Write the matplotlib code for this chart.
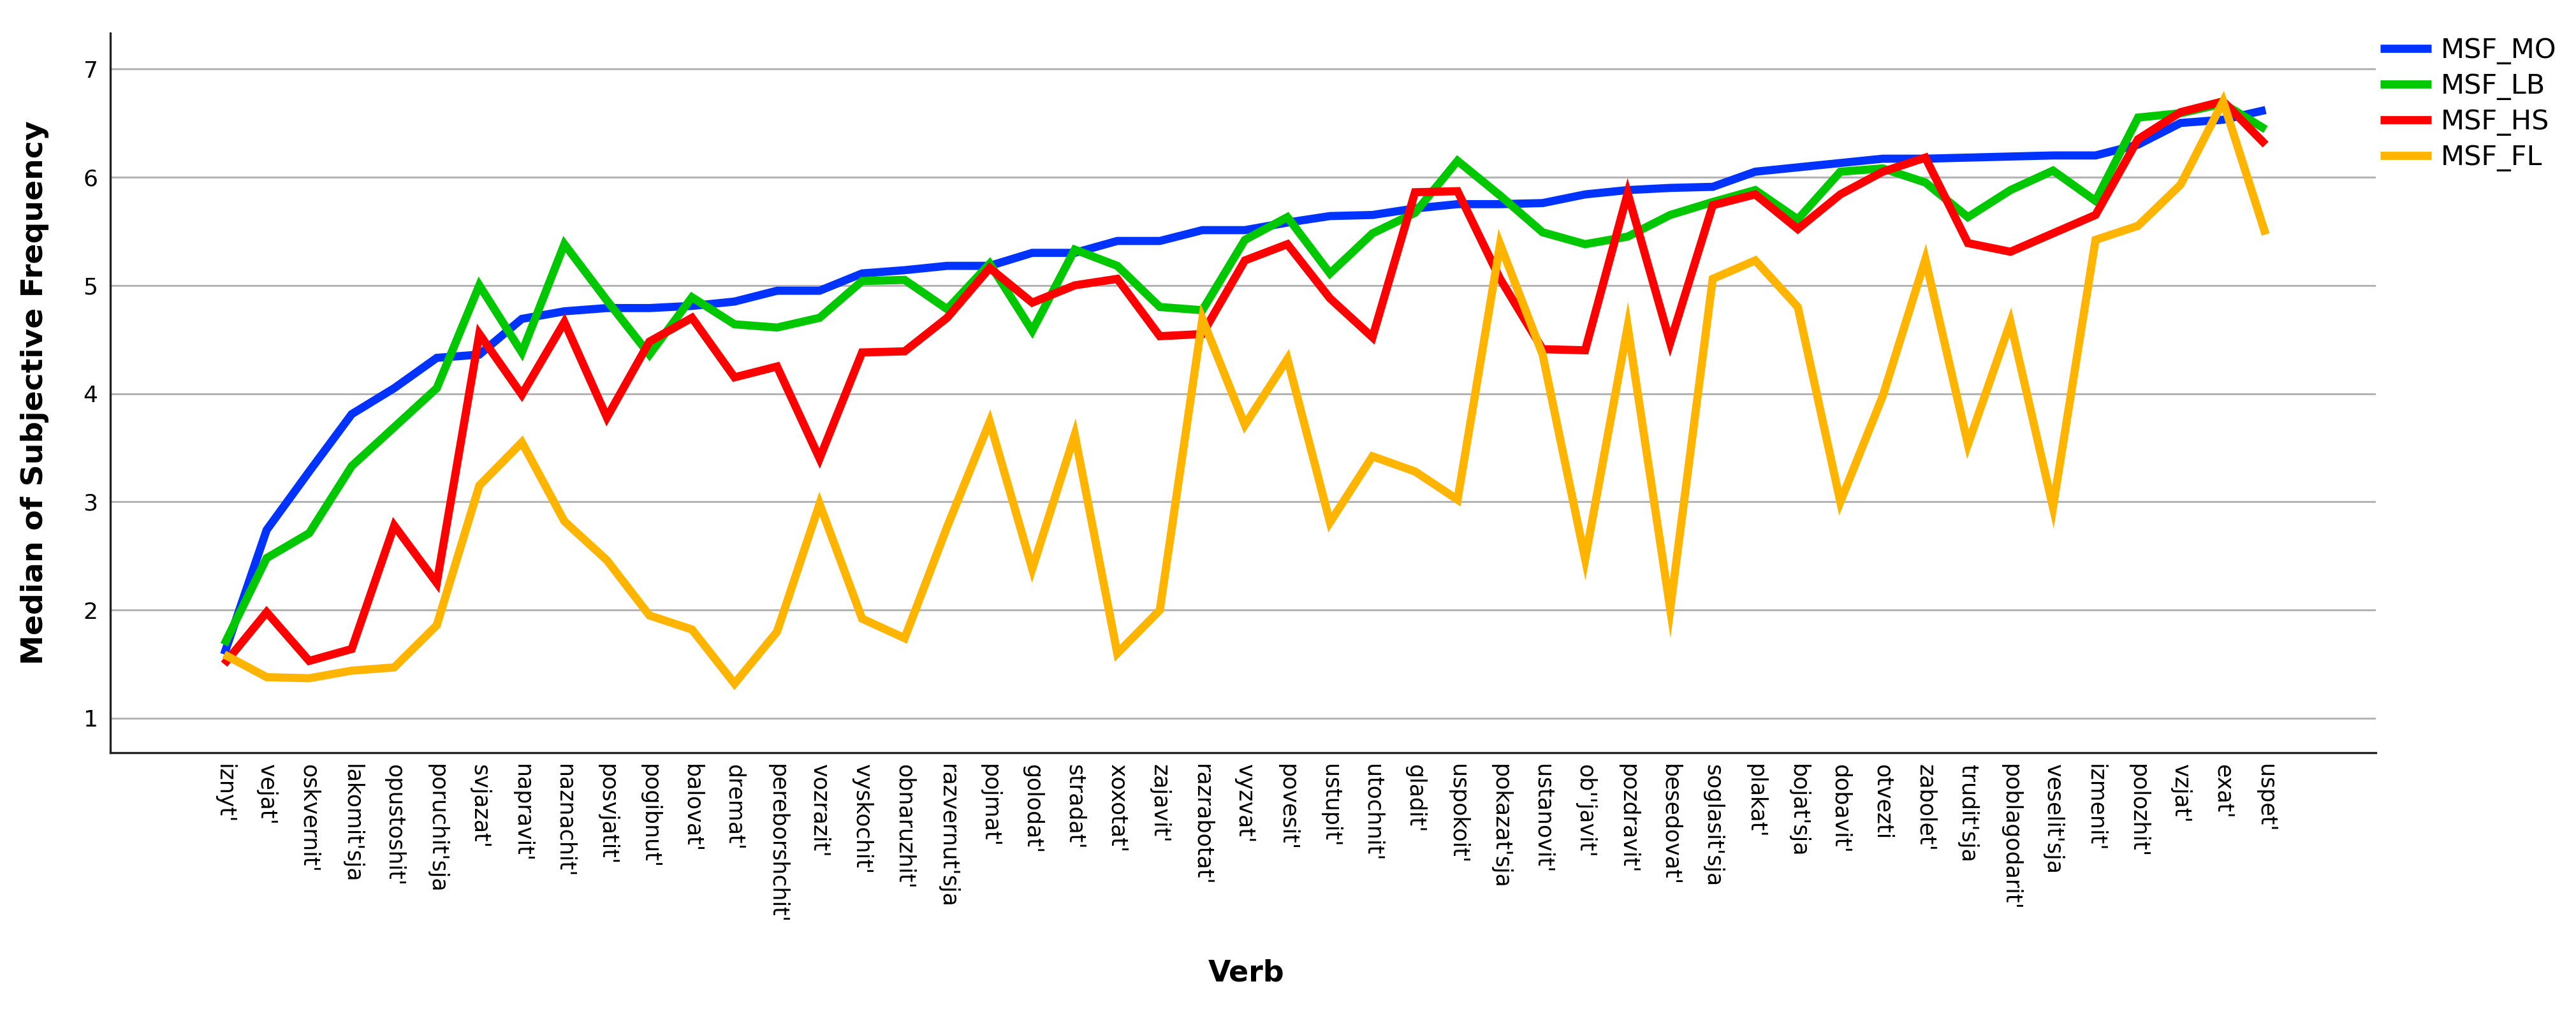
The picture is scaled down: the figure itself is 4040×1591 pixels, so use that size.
import matplotlib
matplotlib.use("Agg")
import matplotlib.pyplot as plt

verbs = ["iznyt'", "vejat'", "oskvernit'", "lakomit'sja", "opustoshit'", "poruchit'sja",
         "svjazat'", "napravit'", "naznachit'", "posvjatit'", "pogibnut'", "balovat'",
         "dremat'", "pereborshchit'", "vozrazit'", "vyskochit'", "obnaruzhit'", "razvernut'sja",
         "pojmat'", "golodat'", "stradat'", "xoxotat'", "zajavit'", "razrabotat'",
         "vyzvat'", "povesit'", "ustupit'", "utochnit'", "gladit'", "uspokoit'",
         "pokazat'sja", "ustanovit'", "ob''javit'", "pozdravit'", "besedovat'", "soglasit'sja",
         "plakat'", "bojat'sja", "dobavit'", "otvezti", "zabolet'", "trudit'sja",
         "poblagodarit'", "veselit'sja", "izmenit'", "polozhit'", "vzjat'", "exat'", "uspet'"]

msf_mo = [1.59, 2.74, 3.28, 3.81, 4.05, 4.33, 4.36, 4.69, 4.76, 4.79, 4.79, 4.81, 4.85,
          4.95, 4.95, 5.11, 5.14, 5.18, 5.18, 5.30, 5.30, 5.41, 5.41, 5.51, 5.51, 5.58,
          5.64, 5.65, 5.71, 5.75, 5.75, 5.76, 5.84, 5.88, 5.90, 5.91, 6.05, 6.09, 6.13,
          6.17, 6.17, 6.18, 6.19, 6.20, 6.20, 6.30, 6.50, 6.53, 6.62]

msf_lb = [1.68, 2.48, 2.71, 3.33, 3.69, 4.05, 5.00, 4.38, 5.38, 4.86, 4.36, 4.89, 4.64,
          4.61, 4.70, 5.04, 5.05, 4.78, 5.20, 4.58, 5.33, 5.18, 4.80, 4.77, 5.42, 5.63,
          5.11, 5.48, 5.67, 6.15, 5.83, 5.49, 5.38, 5.45, 5.65, 5.77, 5.88, 5.61, 6.05,
          6.08, 5.95, 5.63, 5.88, 6.06, 5.78, 6.55, 6.59, 6.68, 6.44]

msf_hs = [1.50, 1.98, 1.53, 1.64, 2.78, 2.25, 4.55, 3.99, 4.66, 3.78, 4.48, 4.70, 4.15,
          4.25, 3.40, 4.38, 4.39, 4.70, 5.16, 4.84, 5.00, 5.06, 4.53, 4.55, 5.23, 5.38,
          4.88, 4.52, 5.86, 5.87, 5.06, 4.41, 4.40, 5.85, 4.47, 5.74, 5.84, 5.52, 5.84,
          6.05, 6.18, 5.39, 5.31, 5.48, 5.65, 6.35, 6.60, 6.70, 6.30]

msf_fl = [1.59, 1.38, 1.37, 1.44, 1.47, 1.86, 3.15, 3.55, 2.82, 2.46, 1.95, 1.82, 1.32,
          1.80, 2.98, 1.92, 1.74, 2.77, 3.74, 2.38, 3.62, 1.60, 2.00, 4.69, 3.71, 4.32,
          2.81, 3.42, 3.28, 3.02, 5.38, 4.36, 2.47, 4.62, 2.01, 5.06, 5.23, 4.80, 3.00,
          3.98, 5.24, 3.53, 4.66, 2.95, 5.42, 5.55, 5.93, 6.70, 5.47]

series_names = ["MSF_MO", "MSF_LB", "MSF_HS", "MSF_FL"]
series_colors = ["#0033ff", "#00c800", "#ff0000", "#ffb400"]
y_ticks = [1, 2, 3, 4, 5, 6, 7]

W, H = 4040, 1591
fig = plt.figure(figsize=(W / 100, H / 100), dpi=100)
ax_l, ax_r, ax_t, ax_b = 173, 3726, 52, 1181
ax = fig.add_axes([ax_l / W, 1 - ax_b / H, (ax_r - ax_l) / W, (ax_b - ax_t) / H])

x = list(range(len(verbs)))
for vals, name, col in zip([msf_mo, msf_lb, msf_hs, msf_fl], series_names, series_colors):
    ax.plot(x, vals, color=col, lw=9.2, label=name, solid_joinstyle="miter",
            solid_capstyle="butt", zorder=3)

ax.set_xlim(-2.676, 50.59)
ax.set_ylim(0.682, 7.33)
ax.set_yticks(y_ticks)
ax.set_xticks(x)
ax.set_xticklabels(verbs, rotation=-90, fontsize=25)
ax.tick_params(axis="y", labelsize=26, length=0, pad=14)
ax.tick_params(axis="x", length=0, pad=13)
ax.yaxis.grid(True, color="#b4b4b4", lw=2.2, zorder=0)
ax.set_axisbelow(True)

for s in ["top", "right"]:
    ax.spines[s].set_visible(False)
for s in ["left", "bottom"]:
    ax.spines[s].set_linewidth(2.4)
    ax.spines[s].set_color("#222222")

ax.set_ylabel("Median of Subjective Frequency", fontsize=34, fontweight="bold", va="center")
ax.yaxis.set_label_coords((55 - ax_l) / (ax_r - ax_l), 0.5)
ax.set_xlabel("Verb", fontsize=33, fontweight="bold", va="center")
ax.xaxis.set_label_coords((1955 - ax_l) / (ax_r - ax_l), (ax_b - 1527) / (ax_b - ax_t))

ax.legend(loc="upper left", bbox_to_anchor=(3733 / W, 1 - 58 / H),
          bbox_transform=fig.transFigure, frameon=False, borderpad=0,
          borderaxespad=0, handlelength=1.86, handletextpad=0.33,
          labelspacing=0.3, fontsize=31)

fig.savefig("out.png", dpi=100)
